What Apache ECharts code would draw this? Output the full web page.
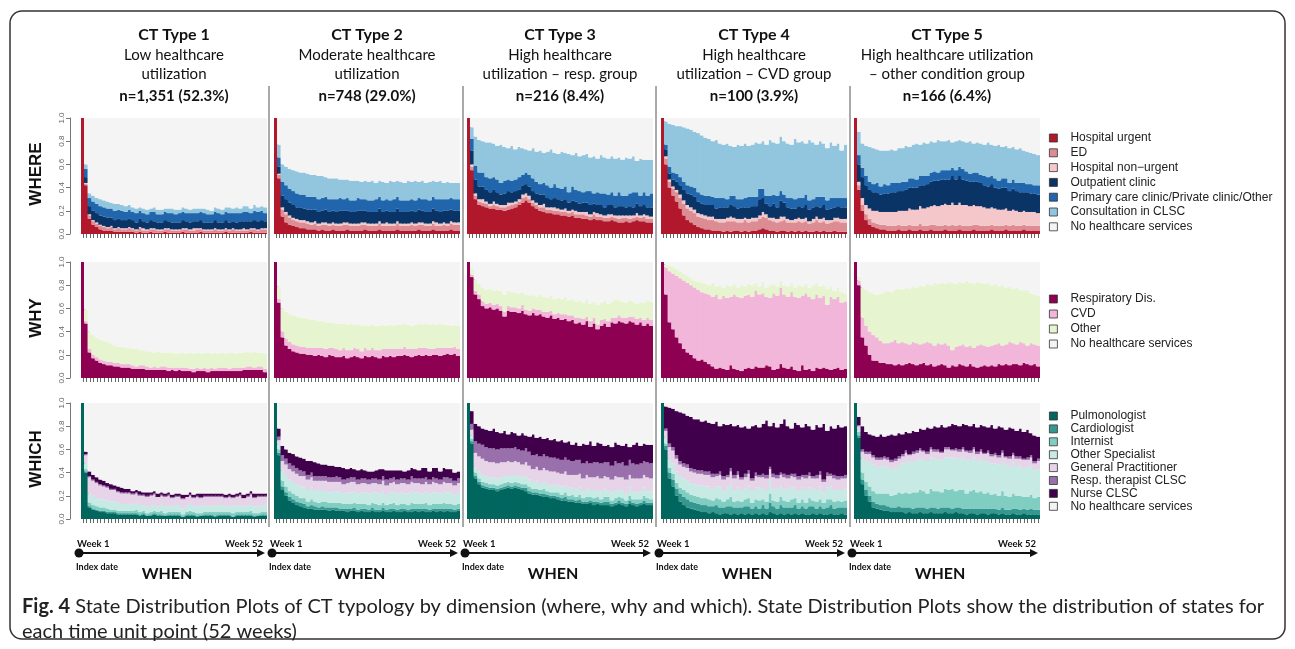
<!DOCTYPE html>
<html>
<head>
<meta charset="utf-8">
<title>State Distribution Plots of CT typology</title>
<script src="https://cdn.jsdelivr.net/npm/echarts@6/dist/echarts.min.js"></script>
<style>
html, body { margin: 0; padding: 0; background: #fff; }
#chart { width: 1295px; height: 649px; }
</style>
</head>
<body>
<div id="chart"></div>
<script>
// weekly state shares (% of the CT type), weeks 1..52

// ---- WHERE ----
var whereUrgent1 = [100,42,13,8,6,4,3,3,3,2,2,2,2, 2,2,1,2,1,1,2,1,1,1,2,1,1, 1,1,2,1,1,1,1,2,1,1,1,1,1, 1,2,1,1,1,1,1,1,2,1,1,1,1];
var whereED1 = [0,1,3,3,3,3,3,2,3,2,3,2,2, 3,2,2,3,2,2,2,3,2,2,2,3,2, 2,2,2,3,2,2,3,2,2,2,2,3,2, 2,2,2,3,2,2,2,2,2,3,2,3,3];
var whereNonUrg1 = [0,1,1,1,1,1,1,1,1,1,1,1,1, 1,1,1,1,2,1,1,1,1,1,1,1,1, 1,1,1,1,1,2,1,1,1,1,1,1,1, 1,1,1,1,1,1,2,1,1,1,1,1,1];
var whereOutpat1 = [0,5,7,8,8,8,8,8,7,7,7,7,7, 7,7,6,7,6,6,7,6,6,6,7,6,6, 6,6,7,6,6,6,6,7,6,6,6,7,6, 6,7,6,6,6,7,6,7,6,7,7,7,6];
var wherePrimary1 = [0,7,7,8,8,8,8,8,8,8,8,8,7, 8,7,8,7,7,7,7,8,7,7,7,7,8, 7,8,7,7,8,7,7,7,8,7,7,7,8, 7,7,8,7,8,7,8,8,7,8,8,8,7];
var whereCLSC1 = [0,4,4,5,5,6,6,6,5,6,5,5,5, 4,4,4,3,4,4,3,4,4,4,3,4,4, 4,3,4,4,3,4,4,3,4,4,3,4,4, 4,4,5,4,5,4,5,5,4,5,4,4,5];

var whereUrgent2 = [100,48,15,10,8,7,6,5,5,4,4,4,3, 4,3,3,4,3,3,3,4,3,3,3,3,4, 3,3,3,4,3,3,3,3,4,3,3,3,3, 3,4,3,3,3,4,3,3,3,3,4,3,3];
var whereED2 = [0,3,6,7,6,5,5,5,5,5,4,5,4, 4,5,4,4,4,4,5,4,4,4,4,5,4, 4,4,4,5,4,4,4,4,5,4,4,4,5, 4,4,5,4,4,5,4,4,5,4,5,5,5];
var whereNonUrg2 = [0,1,2,2,2,2,2,2,2,2,2,2,2, 2,2,2,2,2,2,2,2,2,2,2,2,2, 2,2,2,2,2,3,2,2,2,2,2,2,2, 2,2,2,2,2,2,3,2,2,2,2,2,2];
var whereOutpat2 = [0,6,10,11,11,11,10,11,10,10,11,10,10, 10,11,10,10,10,11,10,10,10,10,11,10,10, 10,10,10,11,10,10,10,10,11,10,10,10,10, 10,11,10,10,10,11,10,10,10,11,10,10,10];
var wherePrimary2 = [0,8,12,12,12,12,12,11,12,11,11,11,11, 11,11,11,10,11,11,10,11,10,10,11,10,10, 10,10,11,10,10,10,10,11,10,10,10,10,10, 10,10,10,11,10,10,10,11,10,10,10,10,10];
var whereCLSC2 = [0,11,15,16,17,18,19,19,19,20,19,19,20, 19,17,18,18,18,16,17,16,17,17,15,15,16, 16,17,14,14,16,14,17,15,14,16,15,17,15, 17,14,16,14,16,14,15,16,14,15,13,14,14];

var whereUrgent3 = [100,55,30,25,24,23,22,22,21,21,20,21,22, 23,25,27,29,27,24,22,20,19,18,18,17,17, 16,16,15,16,14,14,13,13,12,13,12,12,11, 11,12,11,10,10,11,10,11,12,11,11,10,10];
var whereED3 = [0,3,3,3,3,3,2,3,3,2,3,3,3, 3,3,4,3,3,3,3,3,4,3,3,3,3, 3,3,3,3,3,3,4,3,3,4,3,3,3, 3,3,3,3,4,3,3,3,3,3,4,3,3];
var whereNonUrg3 = [0,2,2,2,3,2,2,3,2,2,2,3,2, 2,2,3,3,3,2,2,2,3,2,2,3,2, 2,3,2,2,3,2,2,3,2,2,3,2,2, 3,2,2,3,2,2,3,2,3,2,2,3,2];
var whereOutpat3 = [0,12,12,11,11,10,10,10,10,9,10,10,9, 9,8,8,8,8,8,8,9,8,8,7,8,8, 8,8,7,8,8,7,8,8,8,7,7,8,7, 8,8,7,8,8,7,8,7,8,8,8,7,8];
var wherePrimary3 = [0,10,12,12,12,11,12,11,11,10,11,10,10, 10,11,9,10,10,11,10,9,10,11,10,12,10, 10,11,9,12,10,11,9,10,12,9,11,10,12, 9,11,10,12,9,10,11,13,10,9,11,10,12];
var whereCLSC3 = [0,10,25,28,27,30,31,29,29,33,29,27,30, 26,26,23,20,21,26,26,29,26,29,33,27,29, 32,29,33,27,32,30,32,32,29,32,29,33,31, 31,31,32,30,31,33,30,31,27,32,28,31,29];

var whereUrgent4 = [100,60,40,33,28,22,16,12,10,8,6,5,4, 4,3,3,3,2,3,2,3,3,2,3,2,3, 3,4,5,4,3,3,2,3,3,2,3,2,3, 2,3,2,2,3,2,3,2,2,3,2,2,2];
var whereED4 = [0,5,5,6,8,9,10,10,10,10,9,9,9, 8,9,8,7,8,8,9,8,7,8,9,8,8, 8,9,10,10,9,8,8,8,9,8,7,8,8, 8,8,7,8,9,8,8,7,8,8,9,8,8];
var whereNonUrg4 = [0,2,2,2,2,3,3,3,3,3,3,3,3, 3,3,2,3,3,3,4,3,3,3,2,3,3, 3,3,4,3,2,3,3,4,3,3,2,3,3, 3,3,2,3,3,3,3,3,2,3,3,3,3];
var whereOutpat4 = [0,6,5,6,7,8,9,10,11,11,10,9,9, 10,10,9,10,10,9,10,10,9,10,9,10,10, 10,14,12,9,10,12,10,14,12,10,10,9,10, 10,11,10,10,9,10,11,9,10,9,10,10,10];
var wherePrimary4 = [0,4,6,6,7,7,7,7,7,8,8,8,8, 8,7,9,8,8,7,8,9,8,7,8,9,8, 8,9,8,7,9,8,10,8,7,8,9,8,7, 8,9,8,7,8,9,7,8,9,8,7,8,8];
var whereCLSC4 = [0,20,37,41,41,44,47,49,49,48,51,51,50, 49,48,50,47,46,48,43,42,47,46,47,44,45, 47,39,41,44,48,45,45,47,46,47,46,52,48, 49,44,52,49,45,48,46,45,48,45,47,41,46];

var whereUrgent5 = [100,38,20,12,8,6,5,4,4,3,3,3,4, 3,3,4,3,3,4,3,3,4,3,3,3,4, 3,3,3,4,3,3,3,4,3,3,3,3,4, 3,3,3,4,3,3,3,3,4,3,3,3,3];
var whereED5 = [0,4,5,5,5,4,4,4,4,4,4,4,4, 4,4,4,4,4,5,4,4,4,5,4,4,4, 4,5,4,4,4,4,4,4,5,4,4,4,4, 4,4,4,4,4,5,4,4,4,4,4,4,4];
var whereNonUrg5 = [0,3,6,8,9,10,11,11,11,12,12,12,12, 13,13,14,14,14,15,15,16,16,17,17,18,18, 18,19,18,19,18,18,17,17,16,17,16,15,15, 15,14,14,14,13,13,13,12,12,12,12,12,11];
var whereOutpat5 = [0,15,18,17,16,16,16,15,16,16,17,17,17, 17,18,18,19,19,18,20,20,21,21,22,22,21, 22,23,22,23,22,21,21,20,21,20,19,19,20, 18,18,19,18,17,18,17,17,16,17,16,16,16];
var wherePrimary5 = [0,8,8,8,7,7,8,7,8,7,8,8,7, 8,7,8,8,7,8,8,7,8,8,7,8,8, 8,7,8,8,9,8,7,8,8,7,8,8,7, 8,7,8,8,7,8,7,8,8,7,8,7,8];
var whereCLSC5 = [0,20,21,26,30,31,29,31,29,30,29,28,30, 29,31,27,29,31,27,29,28,27,25,28,25,25, 26,22,25,23,24,25,28,25,26,27,27,30,27, 28,31,27,28,30,28,29,30,28,28,27,27,26];

// ---- WHY ----
var whyResp1 = [100,47,22,17,15,13,12,11,11,10,10,9,9, 9,8,8,8,8,7,7,7,7,7,7,6,7, 6,7,6,6,6,5,6,6,6,5,6,6,6, 6,6,6,6,6,6,7,7,7,7,7,7,5];
var whyCVD1 = [0,2,3,3,3,3,3,3,3,3,3,3,3, 3,3,2,3,3,3,2,3,2,3,3,3,2, 3,2,3,3,2,3,3,2,3,3,3,2,3, 3,3,2,3,3,3,2,3,3,2,3,3,3];
var whyOther1 = [0,10,15,17,17,17,17,17,16,15,14,15,14, 14,14,15,13,13,13,14,12,14,12,12,13,13, 12,13,13,12,14,13,13,13,13,14,12,14,12, 13,12,14,13,12,13,13,13,12,14,12,12,13];

var whyResp2 = [100,65,35,28,25,23,22,21,21,20,20,19,20, 19,18,20,19,18,18,19,17,18,19,18,17,19, 18,19,18,17,19,18,19,18,19,19,20,19,18, 19,20,19,20,19,20,20,19,20,21,20,21,19];
var whyCVD2 = [0,3,5,6,6,6,6,6,6,6,6,7,6, 7,7,6,7,7,6,7,7,6,7,7,6,7, 6,7,6,7,6,7,6,7,6,6,7,6,7, 6,6,7,6,6,5,6,7,6,5,6,6,6];
var whyOther2 = [0,11,20,23,24,25,25,25,25,25,24,24,23, 23,23,22,22,22,23,21,22,23,20,21,22,20, 21,20,21,21,21,20,21,20,21,21,20,21,20, 21,21,20,21,21,22,20,21,20,20,19,19,20];

var whyResp3 = [100,87,72,68,62,60,61,59,60,58,53,58,57, 57,56,58,55,54,56,54,55,53,52,54,51,52, 50,51,49,50,47,48,46,49,44,47,42,45,47, 44,48,47,49,48,47,49,48,46,48,45,47,45];
var whyCVD3 = [0,2,3,4,4,4,4,4,4,4,4,4,4, 4,4,5,4,4,4,5,4,4,5,4,4,4, 5,4,5,4,5,4,5,4,5,5,4,5,4, 5,4,5,5,4,5,4,5,5,4,5,5,5];
var whyOther3 = [0,5,10,9,12,12,12,12,12,13,15,13,13, 13,13,11,13,13,12,11,13,13,12,13,13,13, 13,15,13,14,14,15,14,15,15,14,17,15,16, 15,14,16,13,14,13,14,13,13,14,15,15,16];

var whyResp4 = [100,72,48,42,35,30,25,22,20,17,15,16,14, 12,10,8,9,8,7,11,8,7,6,8,9,8, 10,9,9,11,10,7,8,12,9,8,10,7,6, 11,7,8,6,9,8,9,8,7,8,9,7,8];
var whyCVD4 = [0,23,44,48,53,56,59,60,60,61,61,58,59, 60,60,64,59,63,62,59,64,63,63,63,63,62, 65,63,64,59,59,66,63,66,63,62,64,63,63, 60,66,62,62,63,61,62,55,63,60,61,58,58];
var whyOther4 = [0,3,5,6,6,6,6,6,6,6,7,8,8, 8,12,7,12,7,11,9,9,8,11,8,9,10, 7,7,10,8,11,8,8,6,8,9,8,8,11, 8,8,8,12,10,10,9,14,9,7,8,9,7];

var whyResp5 = [100,80,35,28,20,15,15,13,13,12,12,11,12, 11,12,13,12,11,12,13,11,12,10,11,12,11, 9,11,10,12,11,10,12,10,9,10,11,10,11, 10,12,11,12,11,12,12,11,13,12,11,12,10];
var whyCVD5 = [0,4,17,17,20,22,20,19,17,18,19,22,18, 20,18,16,19,19,17,17,20,18,18,19,17,19, 19,13,17,16,18,17,16,16,19,19,17,17,17, 19,18,17,17,20,18,17,20,17,16,19,17,18];
var whyOther5 = [0,3,26,31,34,36,37,41,44,45,43,43,47, 45,48,48,48,48,51,49,50,50,54,51,53,51, 55,58,54,55,53,57,54,55,55,53,53,55,52, 52,49,52,49,48,47,49,45,45,48,43,43,43];

// ---- WHICH ----
var whichPulmo1 = [100,40,10,8,7,6,6,5,5,5,4,4,4, 4,4,4,3,4,3,3,4,3,3,3,3,3, 3,3,2,3,3,3,2,3,3,3,3,2,3, 3,3,3,2,3,3,3,3,3,2,3,3,3];
var whichCardio1 = [0,1,1,1,1,1,1,1,1,1,1,1,1, 1,1,1,1,1,0,1,1,1,1,0,1,1, 1,1,0,1,1,1,1,0,1,1,1,1,1, 1,1,1,0,1,1,1,1,1,1,0,1,1];
var whichIntern1 = [0,2,3,3,3,3,3,3,2,2,2,2,2, 2,2,3,2,2,2,2,2,2,3,2,2,2, 2,2,2,2,3,2,2,2,2,2,2,3,2, 2,2,2,3,2,2,2,2,3,2,2,2,2];
var whichOtherSp1 = [0,5,8,8,7,7,7,7,7,7,7,6,6, 6,6,6,6,5,6,6,6,5,6,6,6,5, 6,6,5,6,6,5,6,6,6,6,5,6,6, 6,5,6,6,6,6,5,6,6,6,6,6,6];
var whichGP1 = [0,7,14,13,13,12,11,11,10,10,9,9,9, 9,8,8,8,8,8,8,8,8,7,8,8,7, 7,7,8,7,7,7,8,7,7,7,8,7,7, 7,7,7,7,7,8,7,7,8,7,8,7,7];
var whichRespTh1 = [0,1,1,1,1,1,1,1,1,1,1,1,1, 1,1,1,1,1,1,1,1,0,1,1,1,1, 1,1,1,0,1,1,1,1,1,1,1,1,1, 1,1,1,1,1,1,0,1,1,1,1,1,1];
var whichNurse1 = [0,2,4,4,4,4,4,3,4,3,4,4,3, 3,2,2,3,2,3,2,2,3,2,2,2,2, 2,2,3,2,2,2,2,3,2,2,2,2,2, 2,2,2,2,2,2,3,2,2,3,2,2,2];

var whichPulmo2 = [100,55,25,20,16,14,12,11,10,9,9,8,8, 8,8,7,8,7,7,7,6,7,7,6,7,6, 6,7,6,6,7,6,6,7,6,6,7,6,6, 7,6,7,6,6,7,6,7,6,7,6,6,7];
var whichCardio2 = [0,2,3,3,3,3,3,3,3,2,3,3,2, 3,2,3,2,3,2,2,3,2,3,2,2,3, 2,3,2,2,3,2,3,2,2,3,2,2,3, 2,3,2,3,2,2,3,2,3,2,3,2,2];
var whichIntern2 = [0,3,5,5,5,5,5,4,5,4,5,4,4, 4,5,4,4,4,5,4,4,4,4,5,4,4, 4,4,5,4,4,4,4,5,4,4,4,4,5, 4,4,4,5,4,4,4,4,5,4,4,4,4];
var whichOtherSp2 = [0,4,9,10,10,10,10,10,10,10,10,10,10, 10,10,9,10,10,10,9,10,10,10,9,10,10, 10,9,10,10,10,9,10,10,10,10,9,10,10, 10,10,9,10,10,10,10,9,10,10,10,9,10];
var whichGP2 = [0,4,8,9,9,9,9,9,9,9,9,8,9, 8,8,9,8,8,8,8,8,9,8,8,8,8, 8,8,8,8,9,8,8,8,8,8,9,8,8, 8,8,8,8,8,9,8,8,8,8,8,8,8];
var whichRespTh2 = [0,3,5,5,5,5,5,5,4,4,4,4,4, 4,4,4,4,5,4,4,4,4,4,4,4,4, 4,4,4,4,4,5,4,4,4,4,4,4,5, 4,4,5,4,4,4,4,4,4,5,4,4,4];
var whichNurse2 = [0,7,8,8,9,10,10,11,11,12,10,12,11, 10,10,10,10,8,9,10,8,8,7,8,8,7, 7,6,7,9,6,8,7,6,8,7,6,8,7, 8,7,9,8,7,8,9,7,8,7,8,7,6];

var whichPulmo3 = [100,65,35,30,27,26,25,25,24,25,26,27,26, 27,26,25,24,22,21,21,20,19,19,18,18,17, 16,16,15,15,14,14,13,13,14,12,13,12,12, 12,11,12,13,12,11,13,12,11,12,13,12,12];
var whichCardio3 = [0,2,2,2,2,2,2,2,2,2,2,2,2, 2,2,2,3,2,2,2,2,3,2,2,2,2, 2,3,2,2,2,3,2,2,2,3,2,2,3, 3,2,2,3,2,2,3,2,2,2,3,2,2];
var whichIntern3 = [0,2,3,3,3,3,3,3,3,3,3,3,3, 3,3,3,3,4,3,3,3,4,3,3,3,4, 3,4,3,4,3,4,3,4,3,3,4,3,4, 4,3,4,3,4,3,4,3,4,3,4,4,3];
var whichOtherSp3 = [0,3,5,6,6,6,6,6,6,6,6,6,6, 6,6,6,7,6,6,7,6,6,7,6,7,6, 7,6,7,6,7,7,6,7,6,7,6,7,7, 6,7,7,6,7,6,7,7,6,7,7,6,7];
var whichGP3 = [0,5,12,13,14,13,13,13,13,13,12,12,12, 12,12,11,12,12,11,12,11,12,11,12,11,11, 11,12,11,11,12,11,11,12,11,11,12,11,11, 11,11,12,11,11,12,11,11,12,11,11,12,11];
var whichRespTh3 = [0,5,10,11,12,12,12,12,12,12,12,11,12, 12,11,12,12,12,12,11,12,12,12,12,12,12, 12,12,13,12,13,12,13,12,12,13,12,13,12, 13,12,13,12,13,12,13,13,12,13,12,13,13];
var whichNurse3 = [0,11,15,15,14,15,15,17,15,13,15,12,14, 12,12,15,11,13,18,14,17,13,16,15,16,15, 17,13,16,14,15,12,17,14,19,14,17,17,14, 15,16,16,16,14,19,11,16,19,15,15,15,16];

var whichPulmo4 = [100,60,35,28,20,15,12,10,9,8,7,6,6, 5,6,5,4,5,5,4,5,4,5,4,5,4, 5,4,5,4,6,5,4,5,4,5,4,5,4, 5,4,4,5,4,5,4,4,5,4,4,5,4];
var whichCardio4 = [0,3,5,6,6,7,7,7,6,6,6,6,6, 6,5,7,6,5,6,7,5,6,5,7,6,5, 6,5,7,5,8,6,5,7,6,5,6,7,5, 6,5,7,6,5,6,5,6,7,5,6,5,6];
var whichIntern4 = [0,2,4,5,5,5,6,6,6,6,6,6,6, 6,5,6,7,5,6,8,5,6,5,6,7,5, 6,7,5,6,8,5,6,7,6,5,7,6,5, 6,5,7,5,6,6,5,7,5,6,6,5,6];
var whichOtherSp4 = [0,5,8,9,10,10,10,10,10,10,10,11,10, 11,10,10,11,9,10,12,10,11,10,9,11,10, 10,11,9,10,12,10,11,9,10,11,10,9,10, 10,11,9,10,10,11,9,10,11,10,9,10,10];
var whichGP4 = [0,6,10,11,11,10,10,11,10,10,10,10,10, 10,10,9,10,10,9,10,10,11,9,10,10,9, 10,9,10,10,9,10,9,10,10,9,10,9,10, 9,10,10,9,10,10,9,10,9,10,9,10,9];
var whichRespTh4 = [0,2,3,3,3,3,3,3,3,3,3,3,3, 3,3,2,3,3,2,3,3,3,2,3,3,2, 3,2,3,3,2,3,3,2,3,3,2,3,3, 2,3,3,2,3,3,2,3,2,3,3,2,3];
var whichNurse4 = [0,19,31,33,38,42,43,42,44,43,44,42,44, 42,43,45,39,45,43,38,42,40,43,41,36,45, 41,41,43,47,35,44,41,42,47,42,39,44,44, 41,44,40,40,43,38,48,36,41,40,44,42,42];

var whichPulmo5 = [100,70,30,20,15,10,9,8,7,7,6,6,6, 6,5,6,5,5,6,5,5,6,5,5,5,6, 5,5,6,5,5,4,5,5,4,5,5,4,5, 5,4,5,4,4,5,4,4,5,4,4,4,4];
var whichCardio5 = [0,2,4,5,5,5,4,4,5,4,4,4,5, 4,5,4,4,5,4,5,4,4,5,4,5,4, 5,4,4,5,4,5,4,4,5,4,4,5,4, 4,4,5,4,4,4,5,4,4,4,5,4,4];
var whichIntern5 = [0,3,6,7,8,9,9,10,10,11,10,11,12, 12,13,12,14,13,15,14,13,16,14,15,13,16, 15,17,14,15,16,13,15,16,14,15,13,14,12, 13,12,14,12,11,13,11,12,10,11,12,10,11];
var whichOtherSp5 = [0,2,12,18,22,23,23,23,24,23,23,23,23, 26,27,27,26,28,27,27,28,27,28,27,28,27, 28,27,28,27,28,29,27,28,27,27,28,27,27, 26,27,26,27,26,27,25,26,25,26,25,24,24];
var whichGP5 = [0,3,6,6,6,6,6,6,6,6,6,6,6, 6,7,6,7,6,7,7,6,7,6,7,6,7, 7,6,7,6,7,7,6,7,6,7,6,7,6, 7,6,7,6,7,6,7,6,7,6,7,6,7];
var whichRespTh5 = [0,1,2,2,2,2,2,2,2,2,2,2,2, 2,2,1,2,2,2,1,2,2,2,2,1,2, 2,1,2,2,2,1,2,2,2,2,1,2,2, 2,2,2,1,2,2,2,2,1,2,2,2,2];
var whichNurse5 = [0,7,20,17,15,17,18,20,17,19,22,20,20, 17,16,18,18,16,17,18,21,16,20,19,23,17, 18,22,20,20,20,22,21,20,21,21,23,20,25, 21,25,20,23,25,21,22,24,23,24,19,22,19];

var weeks = [];
for (var w = 1; w <= 52; w++) weeks.push('Week ' + w);

var whereStates = ['Hospital urgent', 'ED', 'Hospital non\u2212urgent', 'Outpatient clinic',
  'Primary care clinic/Private clinic/Other', 'Consultation in CLSC', 'No healthcare services'];
var whyStates = ['Respiratory Dis.', 'CVD', 'Other', 'No healthcare services'];
var whichStates = ['Pulmonologist', 'Cardiologist', 'Internist', 'Other Specialist',
  'General Practitioner', 'Resp. therapist CLSC', 'Nurse CLSC', 'No healthcare services'];

var whereColors = ['#b2182b', '#dc8c93', '#f4c7ca', '#0b3466', '#2166ac', '#92c5de', '#f4f4f4'];
var whyColors = ['#8e0152', '#f1b6da', '#e6f5d0', '#f4f4f4'];
var whichColors = ['#01665e', '#35978f', '#80cdc1', '#c7eae5', '#e7d4e8', '#9970ab', '#40004b', '#f4f4f4'];

var ctTitles = [
  ['CT Type 1', 'Low healthcare', 'utilization', 'n=1,351 (52.3%)'],
  ['CT Type 2', 'Moderate healthcare', 'utilization', 'n=748 (29.0%)'],
  ['CT Type 3', 'High healthcare', 'utilization \u2013 resp. group', 'n=216 (8.4%)'],
  ['CT Type 4', 'High healthcare', 'utilization \u2013 CVD group', 'n=100 (3.9%)'],
  ['CT Type 5', 'High healthcare utilization', '\u2013 other condition group', 'n=166 (6.4%)']
];
var rowNames = ['WHERE', 'WHY', 'WHICH'];

var rows = [
  { states: whereStates, colors: whereColors, panels: [
    [whereUrgent1, whereED1, whereNonUrg1, whereOutpat1, wherePrimary1, whereCLSC1],
    [whereUrgent2, whereED2, whereNonUrg2, whereOutpat2, wherePrimary2, whereCLSC2],
    [whereUrgent3, whereED3, whereNonUrg3, whereOutpat3, wherePrimary3, whereCLSC3],
    [whereUrgent4, whereED4, whereNonUrg4, whereOutpat4, wherePrimary4, whereCLSC4],
    [whereUrgent5, whereED5, whereNonUrg5, whereOutpat5, wherePrimary5, whereCLSC5]] },
  { states: whyStates, colors: whyColors, panels: [
    [whyResp1, whyCVD1, whyOther1], [whyResp2, whyCVD2, whyOther2], [whyResp3, whyCVD3, whyOther3],
    [whyResp4, whyCVD4, whyOther4], [whyResp5, whyCVD5, whyOther5]] },
  { states: whichStates, colors: whichColors, panels: [
    [whichPulmo1, whichCardio1, whichIntern1, whichOtherSp1, whichGP1, whichRespTh1, whichNurse1],
    [whichPulmo2, whichCardio2, whichIntern2, whichOtherSp2, whichGP2, whichRespTh2, whichNurse2],
    [whichPulmo3, whichCardio3, whichIntern3, whichOtherSp3, whichGP3, whichRespTh3, whichNurse3],
    [whichPulmo4, whichCardio4, whichIntern4, whichOtherSp4, whichGP4, whichRespTh4, whichNurse4],
    [whichPulmo5, whichCardio5, whichIntern5, whichOtherSp5, whichGP5, whichRespTh5, whichNurse5]] }
];

// layout
var colLeft = [81, 274, 467, 661, 854];
var rowTop = [118, 262, 403];
var panelW = 186, panelH = 116;
var titleFont = 'Lato, "Open Sans", sans-serif';
// bars a bit wider than their band so neighbours overlap and no hairline seams show
var barPx = panelW / 52 + 1.2;

var myChart = echarts.init(document.getElementById('chart'));

var grids = [], xAxes = [], yAxes = [], series = [];
rows.forEach(function (row, r) {
  row.panels.forEach(function (panel, c) {
    var gi = grids.length;
    grids.push({ left: colLeft[c], top: rowTop[r], width: panelW, height: panelH });
    xAxes.push({
      gridIndex: gi, type: 'category', data: weeks, offset: 3,
      axisLine: { show: true, lineStyle: { color: 'rgba(0,0,0,0)' } },
      axisTick: { show: true, alignWithLabel: true, interval: 0, length: 4, lineStyle: { color: '#666', width: 1 } },
      axisLabel: { show: false },
      splitLine: { show: false }, splitArea: { show: false }
    });
    yAxes.push({
      gridIndex: gi, type: 'value', min: 0, max: 1, interval: 0.2, show: c === 0, offset: 11,
      axisLine: { show: true, lineStyle: { color: '#777' } },
      axisTick: { show: true, length: 4, lineStyle: { color: '#777' } },
      splitLine: { show: false },
      axisLabel: { rotate: 90, fontSize: 8, color: '#666', margin: 4, fontFamily: 'Liberation Sans',
        formatter: function (v) { return v.toFixed(1); } }
    });
    var used = weeks.map(function () { return 0; });
    panel.forEach(function (vals, k) {
      if (vals.length !== 52) throw new Error(row.states[k] + ' panel ' + (c + 1) + ' has ' + vals.length);
      vals.forEach(function (v, i) { used[i] += v; });
      series.push(barSeries(row.states[k], row.colors[k], gi, vals.map(function (v) { return v / 100; })));
    });
    // remainder = no healthcare services
    var last = row.states.length - 1;
    series.push(barSeries(row.states[last], row.colors[last], gi,
      used.map(function (u) { return Math.max(0, 100 - u) / 100; })));
  });
});

function barSeries(name, color, gi, data) {
  return {
    name: name, type: 'bar', stack: 'p' + gi, xAxisIndex: gi, yAxisIndex: gi,
    data: data, barWidth: barPx, silent: true,
    itemStyle: { color: color, borderWidth: 0 }
  };
}

function legendFor(states, top, gap) {
  return {
    data: states, orient: 'vertical', left: 1049, top: top, padding: 0,
    itemWidth: 8, itemHeight: 8, itemGap: gap, icon: 'rect', selectedMode: false,
    itemStyle: { borderColor: '#333', borderWidth: 0.8 },
    textStyle: { fontFamily: 'Liberation Sans', fontSize: 12, color: '#222', lineHeight: 12, padding: [0, 0, 0, 8] }
  };
}

var graphics = [];
graphics.push({ type: 'rect', shape: { x: 10, y: 11, width: 1275, height: 628, r: 12 },
  style: { fill: 'none', stroke: '#333', lineWidth: 1.5 } });
[269, 463, 656, 850].forEach(function (x) {
  graphics.push({ type: 'line', shape: { x1: x, y1: 86, x2: x, y2: 527 }, style: { stroke: '#555', lineWidth: 1 } });
});
ctTitles.forEach(function (lines, c) {
  var cx = colLeft[c] + panelW / 2;
  var ys = [35, 55, 74, 96];
  lines.forEach(function (t, i) {
    var bold = i === 0 || i === 3;
    graphics.push({ type: 'text', x: cx, y: ys[i], style: { text: t, align: 'center', verticalAlign: 'middle',
      fontFamily: titleFont, fontSize: i === 0 ? 16 : 15, fontWeight: bold ? 'bold' : 'normal', fill: '#111' } });
  });
  // WHEN time arrow
  var x0 = colLeft[c];
  graphics.push({ type: 'line', shape: { x1: x0 - 2, y1: 553, x2: x0 + 177, y2: 553 }, style: { stroke: '#111', lineWidth: 1.8 } });
  graphics.push({ type: 'polygon', shape: { points: [[x0 + 176, 549], [x0 + 184, 553], [x0 + 176, 557]] }, style: { fill: '#111' } });
  graphics.push({ type: 'circle', shape: { cx: x0 - 2, cy: 553, r: 4.5 }, style: { fill: '#111' } });
  graphics.push({ type: 'text', x: x0 - 4, y: 544, style: { text: 'Week 1', align: 'left', verticalAlign: 'middle',
    fontFamily: titleFont, fontSize: 9.5, fontWeight: 'bold', fill: '#111' } });
  graphics.push({ type: 'text', x: x0 + 182, y: 544, style: { text: 'Week 52', align: 'right', verticalAlign: 'middle',
    fontFamily: titleFont, fontSize: 9.5, fontWeight: 'bold', fill: '#111' } });
  graphics.push({ type: 'text', x: x0 - 5, y: 567, style: { text: 'Index date', align: 'left', verticalAlign: 'middle',
    fontFamily: titleFont, fontSize: 9, fontWeight: 'bold', fill: '#111' } });
  graphics.push({ type: 'text', x: x0 + 86, y: 574, style: { text: 'WHEN', align: 'center', verticalAlign: 'middle',
    fontFamily: titleFont, fontSize: 16, fontWeight: 'bold', fill: '#111' } });
});
rowNames.forEach(function (name, r) {
  graphics.push({ type: 'text', x: 36, y: rowTop[r] + panelH / 2 - 2, rotation: Math.PI / 2,
    style: { text: name, align: 'center', verticalAlign: 'middle', fontFamily: 'Liberation Sans',
      fontSize: 17, fontWeight: 'bold', fill: '#111' } });
});
graphics.push({ type: 'text', x: 22, y: 607, style: {
  text: '{b|Fig. 4} State Distribution Plots of CT typology by dimension (where, why and which). State Distribution Plots show the distribution of states for',
  verticalAlign: 'middle', fontFamily: titleFont, fontSize: 20, fill: '#222',
  rich: { b: { fontFamily: titleFont, fontSize: 20, fontWeight: 'bold', fill: '#222' } } } });
graphics.push({ type: 'text', x: 22, y: 632, style: { text: 'each time unit point (52 weeks)',
  verticalAlign: 'middle', fontFamily: titleFont, fontSize: 20, fill: '#222' } });

var option = {
  animation: false,
  textStyle: { fontFamily: 'Liberation Sans' },
  grid: grids,
  xAxis: xAxes,
  yAxis: yAxes,
  legend: [legendFor(whereStates, 132, 2.8), legendFor(whyStates, 293, 3), legendFor(whichStates, 410, 0.9)],
  series: series,
  graphic: graphics
};
myChart.setOption(option);
</script>
</body>
</html>
